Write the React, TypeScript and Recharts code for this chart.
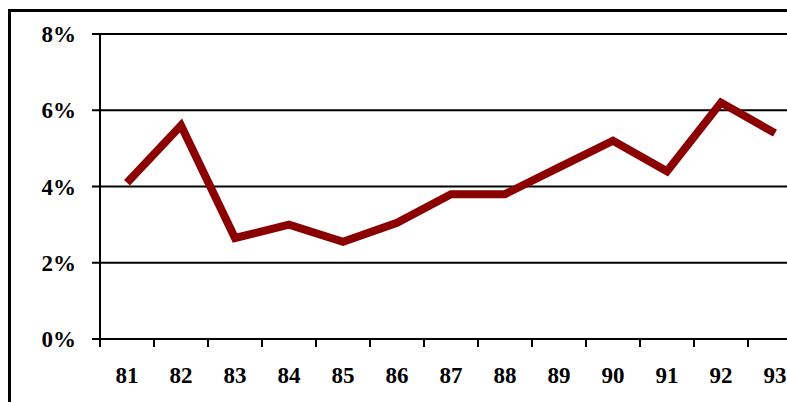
import { LineChart, Line, XAxis, YAxis, CartesianGrid } from 'recharts';

const years = ['81', '82', '83', '84', '85', '86', '87', '88', '89', '90', '91', '92', '93'];
const rates = [4.1, 5.6, 2.65, 3.0, 2.55, 3.05, 3.8, 3.8, 4.5, 5.2, 4.4, 6.2, 5.4];
const yTicks = [0, 2, 4, 6, 8];

const data = years.map((year, i) => ({ year, rate: rates[i] }));

const FONT = '"Liberation Serif", "Times New Roman", serif';
const BAND = 54;

// labels sit in the middle of each band, tick marks on the band edges
const YearTick = ({ x, y, payload }: any) => (
  <g>
    <line x1={x - BAND / 2} y1={y} x2={x - BAND / 2} y2={y + 8} stroke="#000" strokeWidth={2} />
    <text
      x={x}
      y={y + 44}
      textAnchor="middle"
      fill="#000"
      fontFamily={FONT}
      fontWeight="bold"
      fontSize={23}
    >
      {payload.value}
    </text>
  </g>
);

export default function App() {
  return (
    <div
      style={{
        position: 'fixed',
        left: 0,
        top: 0,
        width: 787,
        height: 402,
        overflow: 'hidden',
        background: '#fff',
      }}
    >
      <div
        style={{
          position: 'absolute',
          left: 8,
          top: 9,
          width: 900,
          height: 500,
          borderLeft: '3px solid #000',
          borderTop: '3px solid #000',
        }}
      />
      <div style={{ position: 'absolute', left: 0, top: 0 }}>
        <LineChart
          width={802}
          height={402}
          data={data}
          margin={{ top: 34, right: 0, bottom: 0, left: 0 }}
        >
          <CartesianGrid vertical={false} stroke="#000" strokeWidth={2} />
          <XAxis
            dataKey="year"
            scale="band"
            interval={0}
            height={63}
            tickLine={false}
            tickSize={0}
            tickMargin={0}
            axisLine={{ stroke: '#000', strokeWidth: 2 }}
            tick={<YearTick />}
          />
          <YAxis
            width={100}
            domain={[0, 8]}
            ticks={yTicks}
            tickFormatter={(v: number) => `${v}%`}
            tickSize={8}
            tickMargin={16}
            tickLine={{ stroke: '#000', strokeWidth: 2 }}
            axisLine={{ stroke: '#000', strokeWidth: 2 }}
            tick={{ fill: '#000', fontFamily: FONT, fontWeight: 'bold', fontSize: 23 }}
          />
          <Line
            type="linear"
            dataKey="rate"
            stroke="#8b0000"
            strokeWidth={8}
            strokeLinejoin="miter"
            strokeLinecap="butt"
            dot={false}
            isAnimationActive={false}
          />
        </LineChart>
      </div>
    </div>
  );
}
